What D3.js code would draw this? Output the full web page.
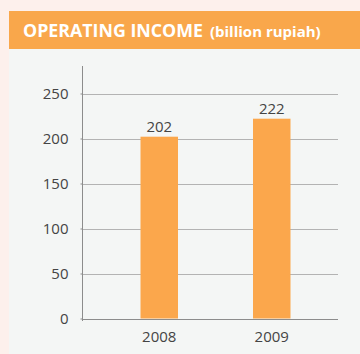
<!DOCTYPE html>
<html>
<head>
<meta charset="utf-8">
<script src="https://cdn.jsdelivr.net/npm/d3@7"></script>
<style>
  html, body { margin: 0; padding: 0; background: #fdf0ec; }
  svg { display: block; }
</style>
</head>
<body>
<svg id="chart" width="360" height="354"></svg>
<script>
// Operating income, billion rupiah
const years = ["2008", "2009"];
const income = [202, 222];
const yTicks = [0, 50, 100, 150, 200, 250];

const svg = d3.select("#chart");
const W = 360, H = 354;
const font = "'Open Sans', 'Noto Sans', sans-serif";

// panel and header band
svg.append("rect").attr("x", 9).attr("y", 11).attr("width", W - 9).attr("height", H - 11).attr("fill", "#f4f6f5");
svg.append("rect").attr("x", 9).attr("y", 11).attr("width", W - 9).attr("height", 38).attr("fill", "#f9a74b");

const title = svg.append("text")
  .attr("x", 23).attr("y", 37)
  .attr("fill", "#ffffff").attr("font-family", font).attr("font-weight", 700);
title.append("tspan").attr("font-size", 17.8).text("OPERATING INCOME");
title.append("tspan").attr("font-size", 15).attr("dx", 7).text("(billion rupiah)");

// scales
const y = d3.scaleLinear().domain([0, 250]).range([318.5, 93.5]);
const x = d3.scaleBand().domain(years).range([103, 328]).paddingInner(2 / 3).paddingOuter(1 / 3);

const axisLeft = 82, gridRight = 338;
const labelSize = 15;

// gridlines
svg.append("g").selectAll("line").data(yTicks.filter(d => d > 0)).join("line")
  .attr("x1", axisLeft).attr("x2", gridRight)
  .attr("y1", d => Math.round(y(d)) + 0.5).attr("y2", d => Math.round(y(d)) + 0.5)
  .attr("stroke", "#b3b3b3").attr("stroke-width", 1);

// baseline
svg.append("line")
  .attr("x1", axisLeft).attr("x2", gridRight)
  .attr("y1", Math.round(y(0)) + 0.5).attr("y2", Math.round(y(0)) + 0.5)
  .attr("stroke", "#8c8c8c");

// y axis
const yAxis = d3.axisLeft(y).tickValues(yTicks).tickSize(2).tickPadding(12);
const gy = svg.append("g").attr("transform", `translate(${axisLeft + 0.5},0)`).call(yAxis);
gy.select(".domain").remove();
gy.selectAll(".tick line").attr("stroke", "#8c8c8c");
gy.selectAll(".tick text").attr("fill", "#444").attr("font-family", font).attr("font-size", labelSize);
gy.append("line").attr("x1", 0).attr("x2", 0).attr("y1", 66).attr("y2", 321).attr("stroke", "#8c8c8c");

// bars
svg.append("g").selectAll("rect").data(years).join("rect")
  .attr("x", d => x(d)).attr("width", x.bandwidth())
  .attr("y", (d, i) => y(income[i])).attr("height", (d, i) => y(0) - y(income[i]))
  .attr("fill", "#fba74c");

// value labels
svg.append("g").selectAll("text").data(years).join("text")
  .attr("x", d => x(d) + x.bandwidth() / 2)
  .attr("y", (d, i) => y(income[i]) - 5)
  .attr("text-anchor", "middle").attr("fill", "#444")
  .attr("font-family", font).attr("font-size", labelSize)
  .text((d, i) => income[i]);

// x axis labels
const xAxis = d3.axisBottom(x).tickSize(0).tickPadding(12.5);
const gx = svg.append("g").attr("transform", `translate(0,${y(0)})`).call(xAxis);
gx.select(".domain").remove();
gx.selectAll(".tick text").attr("fill", "#444").attr("font-family", font).attr("font-size", labelSize);
</script>
</body>
</html>
